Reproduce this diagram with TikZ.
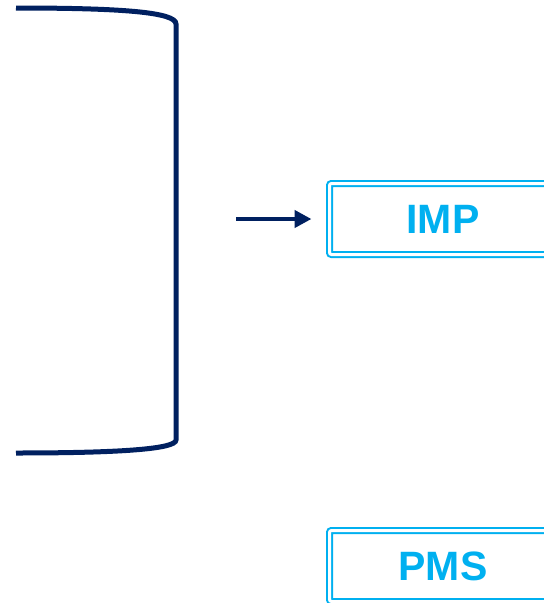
\documentclass[tikz,border=0pt]{standalone}
\usepackage{fontspec}
\setmainfont{Liberation Sans}
\usetikzlibrary{arrows.meta}

\definecolor{navy}{HTML}{002060}
\definecolor{skyblue}{HTML}{00B0F0}

\tikzset{
  unitbox/.style={draw=skyblue, double=white, line width=2pt, double distance=3pt,
    rounded corners=2pt, minimum width=227pt, minimum height=71pt, inner sep=0pt,
    text=skyblue, font=\fontsize{41}{48}\selectfont\bfseries},
}

\begin{document}
\begin{tikzpicture}[x=1pt, y=-1pt]
                \useasboundingbox (0,0) rectangle (544,603);
                \clip (0,0) rectangle (544,603);

                \node[unitbox] (imp) at (443,219) {IMP};
                \node[unitbox] (pms) at (443,566) {PMS};

                % klamra lijevo
                \draw[navy, line width=5pt] (16,8) .. controls (120,8) and (176,12) .. (176,24)
                    -- (176,440) .. controls (176,449) and (120,453) .. (16,453);

                \coordinate (start) at (236,219);
                \draw[navy, line width=4.5pt, -{Triangle[length=17pt, width=17pt]}]
                    (start) -- ([xshift=-17pt]imp.west);
            \end{tikzpicture}
\end{document}
